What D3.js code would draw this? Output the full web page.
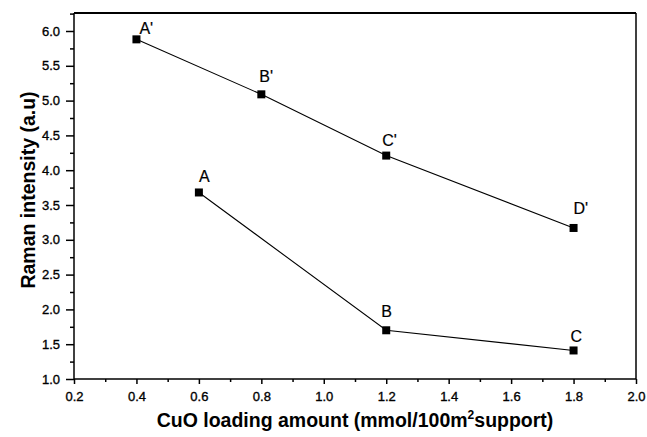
<!DOCTYPE html>
<html>
<head>
<meta charset="utf-8">
<script src="https://cdn.jsdelivr.net/npm/d3@7/dist/d3.min.js"></script>
<style>
  html, body { margin: 0; padding: 0; background: #fff; }
  svg { display: block; }
  text { font-family: "Liberation Sans", Arial, sans-serif; fill: #000; }
</style>
</head>
<body>
<script>
// Series: Raman intensity versus CuO loading
const upperX = [0.4, 0.8, 1.2, 1.8];
const upperY = [5.88, 5.09, 4.21, 3.17];
const upperLabels = ["A'", "B'", "C'", "D'"];

const lowerX = [0.6, 1.2, 1.8];
const lowerY = [3.68, 1.70, 1.41];
const lowerLabels = ["A", "B", "C"];

const xTicks = [0.2, 0.4, 0.6, 0.8, 1.0, 1.2, 1.4, 1.6, 1.8, 2.0];
const yTicks = [1.0, 1.5, 2.0, 2.5, 3.0, 3.5, 4.0, 4.5, 5.0, 5.5, 6.0];

const W = 647, H = 437;
const plotLeft = 74, plotRight = 636, plotTop = 13, plotBottom = 379;

const svg = d3.select("body").append("svg")
  .attr("width", W).attr("height", H);

const x = d3.scaleLinear().domain([0.2, 2.0]).range([plotLeft, plotRight]);
const y = d3.scaleLinear().domain([1.0, 6.0]).range([plotBottom, 31]);
// the frame reaches a little above 6.0
const yTop = y.invert(plotTop);

// minor ticks
const xMinor = d3.range(0.3, 2.0, 0.2).map(v => +v.toFixed(2));
const yMinor = d3.range(1.25, 6.3, 0.5).map(v => +v.toFixed(2)).filter(v => v <= yTop);

// frame
const frame = svg.append("g").attr("stroke", "#000").attr("fill", "none");
frame.append("line").attr("x1", plotLeft).attr("x2", plotRight).attr("y1", plotTop).attr("y2", plotTop).attr("stroke-width", 2);
frame.append("line").attr("x1", plotRight).attr("x2", plotRight).attr("y1", plotTop).attr("y2", plotBottom).attr("stroke-width", 1.5);

// x axis
const xAxis = svg.append("g").attr("transform", `translate(0,${plotBottom})`)
  .call(d3.axisBottom(x).tickValues(xTicks).tickFormat(d3.format(".1f")).tickSize(5).tickPadding(8));
const xMinorAxis = svg.append("g").attr("transform", `translate(0,${plotBottom})`)
  .call(d3.axisBottom(x).tickValues(xMinor).tickFormat("").tickSize(3));

// y axis
const yAxis = svg.append("g").attr("transform", `translate(${plotLeft},0)`)
  .call(d3.axisLeft(y).tickValues(yTicks).tickFormat(d3.format(".1f")).tickSize(8).tickPadding(6));
const yMinorAxis = svg.append("g").attr("transform", `translate(${plotLeft},0)`)
  .call(d3.axisLeft(y).tickValues(yMinor).tickFormat("").tickSize(4));

[xAxis, xMinorAxis, yAxis, yMinorAxis].forEach(g => {
  g.select(".domain").remove();
  g.selectAll(".tick line").attr("stroke", "#000").attr("stroke-width", 1.5);
  g.selectAll("text")
    .attr("font-size", 13)
    .attr("font-family", "Liberation Sans, Arial, sans-serif")
    .attr("fill", "#000")
    .attr("stroke", "#000").attr("stroke-width", 0.35);
});
// axis lines
svg.append("line").attr("x1", plotLeft).attr("x2", plotRight).attr("y1", plotBottom).attr("y2", plotBottom)
  .attr("stroke", "#000").attr("stroke-width", 1.5);
svg.append("line").attr("x1", plotLeft).attr("x2", plotLeft).attr("y1", plotTop).attr("y2", plotBottom)
  .attr("stroke", "#000").attr("stroke-width", 1.5);

// axis titles
svg.append("text")
  .attr("x", 355).attr("y", 427)
  .attr("text-anchor", "middle").attr("font-size", 19.5).attr("font-weight", "bold")
  .call(t => {
    t.append("tspan").text("CuO loading amount (mmol/100m");
    t.append("tspan").attr("font-size", 12).attr("dy", -8).text("2");
    t.append("tspan").attr("dy", 8).text("support)");
  });

svg.append("text")
  .attr("transform", "translate(35,190) rotate(-90)")
  .attr("text-anchor", "middle").attr("font-size", 19.5).attr("font-weight", "bold")
  .text("Raman intensity (a.u)");

// series
const line = d3.line().x(d => x(d[0])).y(d => y(d[1]));
const series = [
  { xs: upperX, ys: upperY, labels: upperLabels },
  { xs: lowerX, ys: lowerY, labels: lowerLabels }
];
// label placement around each marker (dx, dy from marker centre)
const labelOffset = {
  "A'": [3, -5], "B'": [-2, -12], "C'": [-4, -10], "D'": [0, -14],
  "A": [0, -10], "B": [-5, -13], "C": [-3, -8]
};

series.forEach(s => {
  const pts = s.xs.map((v, i) => [v, s.ys[i]]);
  svg.append("path").datum(pts)
    .attr("d", line).attr("fill", "none").attr("stroke", "#000").attr("stroke-width", 1.1);
  svg.selectAll(null).data(pts).enter().append("rect")
    .attr("x", d => x(d[0]) - 4).attr("y", d => y(d[1]) - 4)
    .attr("width", 8).attr("height", 8).attr("fill", "#000");
  svg.selectAll(null).data(pts).enter().append("text")
    .attr("x", (d, i) => x(d[0]) + labelOffset[s.labels[i]][0])
    .attr("y", (d, i) => y(d[1]) + labelOffset[s.labels[i]][1])
    .attr("font-size", 16)
    .attr("stroke", "#000").attr("stroke-width", 0.2)
    .text((d, i) => s.labels[i]);
});
</script>
</body>
</html>
